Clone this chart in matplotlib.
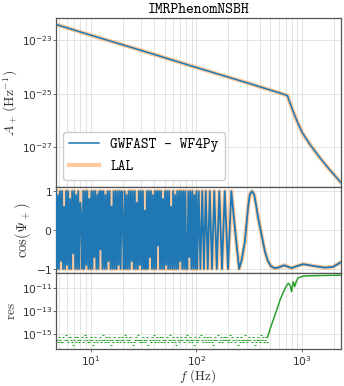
import numpy as np
import matplotlib
matplotlib.use('Agg')
import matplotlib.pyplot as plt
from matplotlib.ticker import FixedLocator, NullLocator

# frequency range shown on the x axis (Hz)
f_min, f_max = 4.7, 2330.

# amplitude A_+ (read as log10 values)
f_amp = [4.7, 10, 30, 100, 300, 600, 725, 760, 813, 900, 1000, 1200, 1455, 1800, 2240, 2330]
amp_log10 = [-22.41, -22.81, -23.38, -24.02, -24.59, -24.96, -25.07, -25.3, -25.62, -26.05,
             -26.45, -26.93, -27.37, -27.82, -28.25, -28.33]

# cos(Psi_+) in the dense, undersampled part (tenths), 4.7 - 100 Hz
cos_dense_tenths = [
    10, -10, 9, -10, 10, -8, 10, -10, 6, -10,
    10, -9, 10, -10, 8, -10, 10, -6, 10, -10,
    9, -10, 10, -10, 7, 4, -10, 10, -10, 10,
    -9, 10, -10, 8, -10, 10, -10, 10, -7, 10,
    -10, 9, -10, 10, -5, 10, -10, 10, -10, 9,
    -10, 10, -8, 10, -10, 6, -10, 10, -10, 10,
    -10, 10, -9, 10, -10, 10, 3, -10, 10, -10,
    9, -10, 10, -10, 10, -8, 10, -10, 10, -10,
    7, -10, 10, -9, 10, -10, 10, -10, 5, -10,
    10, -10, 10, -7, 10, -10, 9, -10, 10, -10,
    10, -4, 10, -10, 10, -10, 8, -10, 10, -9,
    10, -10, 10, -10, 6, -10, 10, -10, 9, -10,
    10, -10, 10, -8, 10, -10, 10, -10, 10, -10,
    -10, 10, -7, 10, -10, 10, -10, 9, -10, 10,
]

# cos(Psi_+) where single oscillations can be followed, 100 Hz - end
f_cos = [101.8, 105.1, 109.1, 113.5, 117.8, 122.5, 128.0, 133.7, 140.3, 147.5, 155.8, 164.5,
         174.5, 185.4, 198.9, 213.8, 232, 253.4, 268.8, 287, 308.4, 320, 336.5, 353, 368.8,
         383.6, 413, 444, 474, 506, 544, 590, 676.6, 795, 893, 1024, 1239, 1645, 1959, 2198, 2330]
cos_vals = [-1, 1, -1, 1, -1, 1, -1, 1, -1, 1, -1, 1,
            -1, 1, -1, 1, 0.0, -1, -0.75, -0.3, 0.6, 0.92, 1.0, 0.9, 0.6,
            0.31, -0.12, -0.55, -0.8, -0.93, -0.98, -0.97, -0.91, -0.98, -0.93, -0.88, -0.92,
            -0.97, -0.95, -0.87, -0.83]

# residual at the numerical-noise floor (log10), 4.7 - 470 Hz
res_noise_log10 = [
    -15.5, -15.5, -15.7, -15.3, -15.5, -15.7, -15.7, -15.3, -15.5, -15.05,
    -15.5, -15.7, -15.3, -15.3, -15.5, -15.7, -16.0, -15.5, -15.3, -15.7,
    -15.3, -15.5, -15.7, -15.5, -15.3, -15.7, -15.5, -15.05, -15.3, -15.5,
    -15.7, -15.7, -15.5, -15.3, -15.5, -16.0, -15.7, -15.3, -15.5, -15.7,
    -15.5, -15.3, -15.7, -15.5, -15.05, -15.5, -15.7, -15.3, -15.5, -15.7,
    -15.3, -15.5, -16.0, -15.5, -15.7, -15.3, -15.5, -15.7, -15.5, -15.3,
    -15.7, -15.5, -15.3, -15.5, -15.7, -15.05, -15.3, -15.5, -15.7, -15.5,
    -15.3, -15.7, -16.0, -15.7, -15.5, -15.3, -15.5, -15.05, -15.5, -15.7,
    -15.5, -15.7, -15.3, -15.5, -15.7, -15.5, -15.3, -16.0, -15.5, -15.7,
    -15.3, -15.5, -15.05, -15.7, -15.5, -15.3, -15.7, -15.5, -15.3, -15.7,
    -15.3, -15.5, -15.7, -15.5, -15.3, -15.7, -15.5, -15.05, -15.5, -15.7,
    -15.3, -15.5, -15.7, -16.0, -15.3, -15.5, -15.7, -15.5, -15.3, -15.5,
    -15.7, -15.3, -15.5, -15.05, -15.5, -15.7, -15.3, -15.5, -15.7, -15.5,
    -16.0, -15.3, -15.5, -15.7, -15.5, -15.3, -15.05, -15.5, -15.7, -15.3,
    -15.5, -15.7, -15.3, -15.5, -15.7, -15.3, -15.5, -15.7, -16.0, -15.5,
    -15.3, -15.5, -15.05, -15.7, -15.5, -15.3, -15.7, -15.5, -15.3, -15.5,
    -15.3, -15.5, -15.7, -15.5, -15.05, -15.7, -15.3, -15.5, -15.7, -15.5,
    -15.3, -16.0, -15.5, -15.7, -15.3, -15.5, -15.7, -15.5, -15.05, -15.5,
    -15.7, -15.5, -15.3, -15.5, -15.7, -15.3, -15.5, -16.0, -15.7, -15.5,
    -15.3, -15.5, -15.7, -15.05, -15.5, -15.3, -15.7, -15.5, -15.3, -15.7,
]

# residual past the noise floor
f_res = [470, 477, 500, 532, 575, 617, 660, 702, 740, 770, 795, 810, 824, 850, 880, 915, 1025, 1300, 1700, 2330]
res_log10 = [-15.3, -15.09, -14.5, -13.78, -12.9, -12.03, -11.4, -10.86, -10.56, -10.75, -11.3, -10.8,
             -10.43, -10.86, -10.4, -10.1, -9.93, -9.9, -9.88, -9.86]

plt.rcParams['mathtext.fontset'] = 'cm'
plt.rcParams['axes.formatter.use_mathtext'] = True
plt.rcParams['axes.unicode_minus'] = True

grid_col = '#e3e3e3'
spine_col = '#555555'
text_col = '#333333'

fig = plt.figure(figsize=(3.44, 3.86), dpi=100)
gs = fig.add_gridspec(3, 1, height_ratios=[169, 85.4, 76.3], hspace=0,
                      left=0.1628, right=0.9913, top=0.9526, bottom=0.0959)
ax_amp = fig.add_subplot(gs[0])
ax_cos = fig.add_subplot(gs[1], sharex=ax_amp)
ax_res = fig.add_subplot(gs[2], sharex=ax_amp)

# amplitude
amp = 10 ** np.array(amp_log10)
ax_amp.plot(f_amp, amp, color='C1', lw=3, alpha=0.4, label='LAL', zorder=2)
ax_amp.plot(f_amp, amp, color='C0', lw=1.1, label='GWFAST - WF4Py', zorder=3)
ax_amp.set_yscale('log')
ax_amp.set_ylim(10 ** -28.5, 10 ** -22.18)
ax_amp.yaxis.set_major_locator(FixedLocator([1e-27, 1e-25, 1e-23]))
ax_amp.yaxis.set_minor_locator(NullLocator())
ax_amp.set_ylabel(r'$A_+\,(\mathrm{Hz}^{-1})$', fontsize=10, color=text_col)
ax_amp.yaxis.set_label_coords(-0.126, 0.5)
ax_amp.set_title('IMRPhenomNSBH', fontsize=10.8, family='cmtt10', pad=4)
handles, labels = ax_amp.get_legend_handles_labels()
leg = ax_amp.legend(handles[::-1], labels[::-1], loc='lower left',
                    prop={'family': 'cmtt10', 'size': 10.6}, framealpha=1, edgecolor='#cccccc')

# cos of the phase
f_dense = np.geomspace(f_min, 100, len(cos_dense_tenths))
f_all = np.concatenate([f_dense, f_cos])
cos_all = np.concatenate([np.array(cos_dense_tenths) / 10., cos_vals])
ax_cos.plot(f_all, cos_all, color='C1', lw=3, alpha=0.4, zorder=2)
ax_cos.plot(f_all, cos_all, color='C0', lw=1.3, zorder=3)
ax_cos.set_ylim(-1.1, 1.1)
ax_cos.set_yticks([-1, 0, 1])
ax_cos.set_ylabel(r'$\cos(\Psi_+)$', fontsize=10.5, color=text_col)
ax_cos.yaxis.set_label_coords(-0.081, 0.5)

# residual: noise floor as short dashes, then the rise as a line
f_noise = np.geomspace(f_min, 470, len(res_noise_log10))
res_noise = 10 ** np.array(res_noise_log10)
ax_res.plot(f_noise, res_noise, ls='none', marker='_', ms=1.9, mew=0.8, color='C2')
ax_res.plot(f_res, 10 ** np.array(res_log10), color='C2', lw=1.1)
ax_res.set_yscale('log')
ax_res.set_ylim(10 ** -16.31, 10 ** -9.64)
ax_res.yaxis.set_major_locator(FixedLocator([1e-15, 1e-13, 1e-11]))
ax_res.yaxis.set_minor_locator(NullLocator())
ax_res.set_ylabel(r'$\mathrm{res}$', fontsize=9.5, color=text_col)
ax_res.yaxis.set_label_coords(-0.133, 0.5)
ax_res.set_xlabel(r'$f$ $(\mathrm{Hz})$', fontsize=9.5, color=text_col)
ax_res.xaxis.set_label_coords(0.498, -0.245)

ax_res.set_xscale('log')
ax_res.set_xlim(f_min, f_max)

for ax in (ax_amp, ax_cos, ax_res):
    ax.grid(True, which='major', color=grid_col, lw=0.7)
    ax.grid(True, which='minor', axis='x', color=grid_col, lw=0.7)
    ax.set_axisbelow(True)
    for sp in ax.spines.values():
        sp.set_color(spine_col)
        sp.set_linewidth(0.9)
    ax.tick_params(which='both', length=2, width=0.6, color=spine_col,
                   labelcolor=text_col, labelsize=7.7)
    ax.tick_params(axis='y', pad=0.5)
    ax.tick_params(axis='x', pad=2)
    ax.tick_params(which='minor', axis='x', length=0)
for ax in (ax_amp, ax_cos):
    ax.tick_params(axis='x', which='both', labelbottom=False, length=0)

fig.savefig('out.png', dpi=100)
